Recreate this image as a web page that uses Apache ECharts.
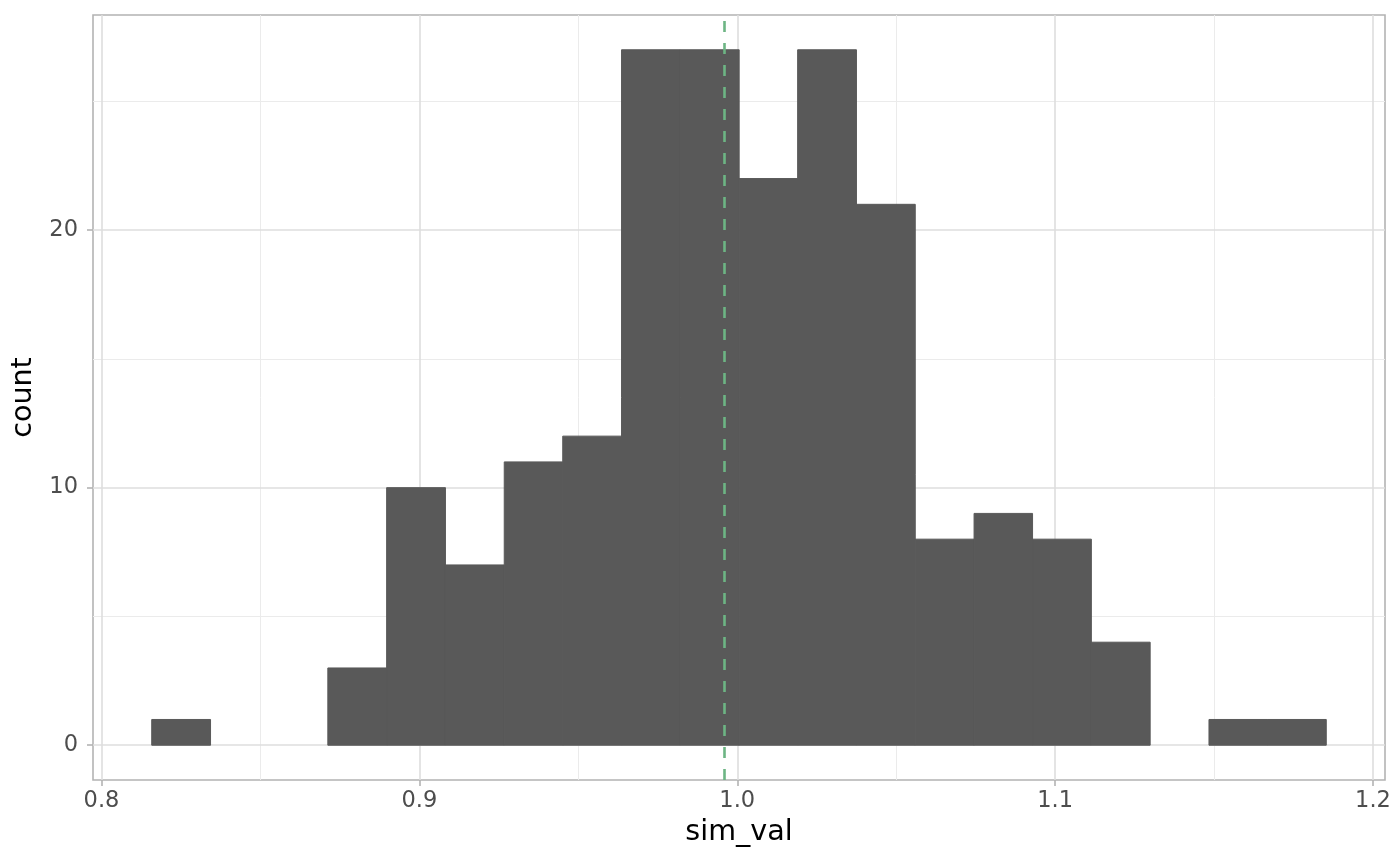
<!DOCTYPE html>
<html>
<head>
<meta charset="utf-8">
<title>sim_val histogram</title>
<script src="https://cdn.jsdelivr.net/npm/echarts@6.0.0/dist/echarts.min.js"></script>
<style>
    html, body { margin: 0; padding: 0; background: #fff; }
    #sim_hist { width: 1400px; height: 865px; }
</style>
</head>
<body>
<div id="sim_hist"></div>
<script>
// Data
var binEdges = [0.8158, 0.8343, 0.8528, 0.8712, 0.8897, 0.9082, 0.9267, 0.9451, 0.9636, 0.9821,
                1.0006, 1.0190, 1.0375, 1.0560, 1.0745, 1.0929, 1.1114, 1.1299, 1.1484, 1.1668, 1.1853];
var binCounts = [1, 0, 0, 3, 10, 7, 11, 12, 27, 27, 22, 27, 21, 8, 9, 8, 4, 0, 1, 1];
var meanLine = 0.996;
var xMajor = [0.8, 0.9, 1.0, 1.1, 1.2];
var xMinor = [0.85, 0.95, 1.05, 1.15];
var yMajor = [0, 10, 20];
var yMinor = [5, 15, 25];

var EchartsHistogram = function() {

    //
    // Setup module components
    //

    var _histogramExample = function() {
        if (typeof echarts == 'undefined') {
            console.warn('Warning - echarts.min.js is not loaded.');
            return;
        }

        // Define element
        var hist_element = document.getElementById('sim_hist');
        if (!hist_element) return;

        // Initialize chart
        var hist = echarts.init(hist_element);

        // Bars: [left edge, right edge, count]
        var bars = [];
        for (var i = 0; i < binCounts.length; i++) {
            bars.push([binEdges[i], binEdges[i + 1], binCounts[i]]);
        }

        // ggplot style padding (5% each side)
        var xSpan = binEdges[binEdges.length - 1] - binEdges[0];
        var xMin = binEdges[0] - xSpan * 0.05;
        var xMax = binEdges[binEdges.length - 1] + xSpan * 0.05;
        var yTop = Math.max.apply(null, binCounts);
        var yMin = -yTop * 0.05;
        var yMax = yTop * 1.05;

        // Grid lines as mark lines
        var minorStyle = {color: '#ebebeb', width: 1, type: 'solid'};
        var majorStyle = {color: '#dedede', width: 1.6, type: 'solid'};
        var gridLines = [];
        xMinor.forEach(function(v) { gridLines.push({xAxis: v, lineStyle: minorStyle}); });
        yMinor.forEach(function(v) { gridLines.push({yAxis: v, lineStyle: minorStyle}); });
        xMajor.forEach(function(v) { gridLines.push({xAxis: v, lineStyle: majorStyle}); });
        yMajor.forEach(function(v) { gridLines.push({yAxis: v, lineStyle: majorStyle}); });

        var labelStyle = {
            color: '#4d4d4d',
            fontSize: 22.5,
            fontFamily: 'DejaVu Sans'
        };
        var titleStyle = {color: '#000', fontSize: 28.6, fontFamily: 'DejaVu Sans'};
        var tickStyle = {color: '#b3b3b3', width: 1.6};

        // Options
        hist.setOption({
            animation: false,

            // Global text styles
            textStyle: {
                fontFamily: 'DejaVu Sans'
            },

            // Panel
            grid: {
                left: 93,
                right: 15,
                top: 15,
                bottom: 85,
                show: true,
                borderColor: '#b3b3b3',
                borderWidth: 1.6,
                backgroundColor: '#fff'
            },

            xAxis: {
                type: 'value',
                min: xMin,
                max: xMax,
                name: 'sim_val',
                nameLocation: 'middle',
                nameGap: 38,
                nameTextStyle: titleStyle,
                axisLine: {show: false, onZero: false},
                axisTick: {show: true, length: 6, customValues: xMajor, lineStyle: tickStyle},
                axisLabel: Object.assign({
                    margin: 10,
                    customValues: xMajor,
                    formatter: function(v) { return v.toFixed(1); }
                }, labelStyle),
                splitLine: {show: false}
            },

            yAxis: {
                type: 'value',
                min: yMin,
                max: yMax,
                name: 'count',
                nameLocation: 'middle',
                nameGap: 49,
                nameRotate: 90,
                nameTextStyle: titleStyle,
                axisLine: {show: false, onZero: false},
                axisTick: {show: true, length: 6, customValues: yMajor, lineStyle: tickStyle},
                axisLabel: Object.assign({
                    margin: 15,
                    customValues: yMajor
                }, labelStyle),
                splitLine: {show: false}
            },

            series: [
                // Grid lines
                {
                    type: 'line',
                    data: [],
                    silent: true,
                    z: 1,
                    markLine: {
                        silent: true,
                        z: 1,
                        precision: 4,
                        symbol: ['none', 'none'],
                        label: {show: false},
                        data: gridLines
                    }
                },
                // Histogram bars
                {
                    type: 'custom',
                    z: 2,
                    silent: true,
                    data: bars,
                    encode: {x: [0, 1], y: 2},
                    renderItem: function(params, api) {
                        if (!api.value(2)) return null;
                        var p0 = api.coord([api.value(0), api.value(2)]);
                        var p1 = api.coord([api.value(1), 0]);
                        return {
                            type: 'rect',
                            shape: {x: p0[0], y: p0[1], width: p1[0] - p0[0], height: p1[1] - p0[1]},
                            style: {fill: '#595959', stroke: '#595959', lineWidth: 1}
                        };
                    }
                },
                // Dashed reference line
                {
                    type: 'line',
                    data: [],
                    silent: true,
                    z: 3,
                    markLine: {
                        silent: true,
                        z: 3,
                        precision: 4,
                        symbol: ['none', 'none'],
                        label: {show: false},
                        lineStyle: {color: '#6db584', width: 2.6, type: [11, 11]},
                        data: [{xAxis: meanLine}]
                    }
                }
            ]
        });
    };

    //
    // Return objects assigned to module
    //

    return {
        init: function() {
            _histogramExample();
        }
    }
}();

// Initialize module
// ------------------------------

document.addEventListener('DOMContentLoaded', function() {
    EchartsHistogram.init();
});
</script>
</body>
</html>
